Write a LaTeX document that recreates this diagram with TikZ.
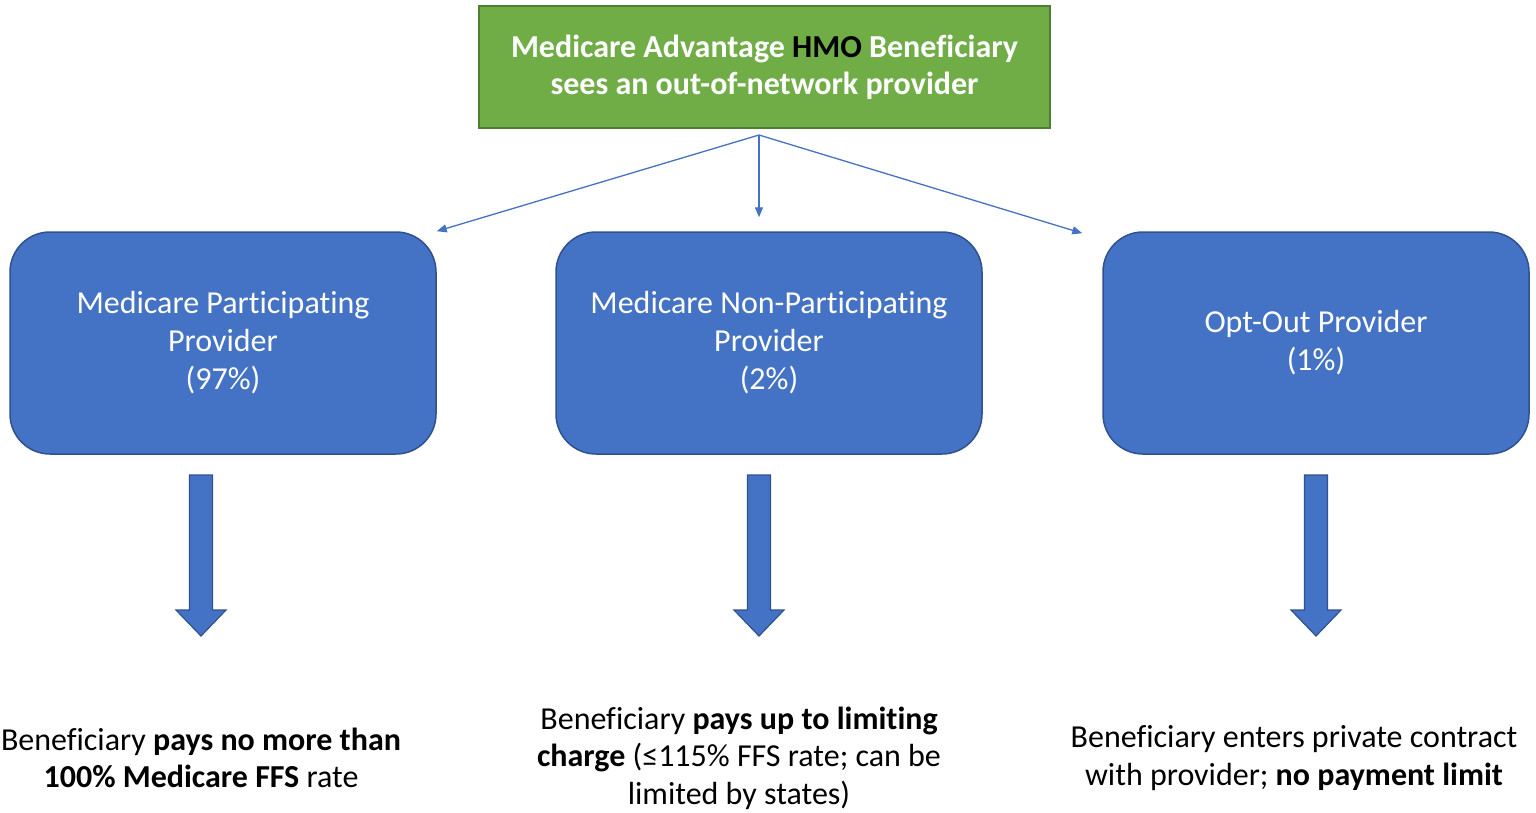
\documentclass[tikz,border=0pt]{standalone}
\usepackage{fontspec}
\setmainfont{Carlito}[Ligatures=NoCommon]
\usetikzlibrary{positioning,arrows.meta}
\definecolor{hmogreen}{HTML}{70AD47}
\definecolor{hmogreenline}{HTML}{507E32}
\definecolor{provblue}{HTML}{4472C4}
\definecolor{provblueline}{HTML}{2F528F}

\begin{document}
\begin{tikzpicture}[x=1pt,y=-1pt,
		topbox/.style={draw=hmogreenline, fill=hmogreen, line width=1.5pt, minimum width=571pt, minimum height=122pt, text=white, font=\fontsize{32}{37}\selectfont\bfseries, align=center},
		provbox/.style={draw=provblueline, fill=provblue, line width=1.5pt, rounded corners=40pt, minimum width=426pt, minimum height=222pt, text=white, font=\fontsize{32}{38}\selectfont, align=center},
		link/.style={provblue, line width=1.3pt, -{Triangle[length=10pt,width=8pt]}},
		bigarrow/.style={fill=provblue, draw=provblueline, line width=1.2pt},
		result/.style={font=\fontsize{32}{37.5}\selectfont, align=center}]
		
		\useasboundingbox (0,0) rectangle (1536,812);
		
		% top box and split point
		\node[topbox] (hmo) at (764.5,67) {Medicare Advantage \textcolor{black}{HMO} Beneficiary\\sees an out-of-network provider};
		\coordinate (split) at (759,135);
		
		% provider boxes
		\node[provbox] (par) at (223,343) {Medicare Participating\\Provider\\(97\%)};
		\node[provbox] (nonpar) at (769,343) {Medicare Non-Participating\\Provider\\(2\%)};
		\node[provbox] (optout) at (1316,343) {Opt-Out Provider\\(1\%)};
		
		\draw[link] (split) -- (par.north east);
		\draw[link, shorten >=14pt] (split) -- (split |- nonpar.north);
		\draw[link] (split) -- ([xshift=-20pt,yshift=-2pt]optout.north west);
		
		% block arrows down to results
		\foreach \x in {201,759,1316}
		{
			\draw[bigarrow] (\x-11.5,475) -- (\x+11.5,475) -- (\x+11.5,610) -- (\x+25,610)
				-- (\x,636) -- (\x-25,610) -- (\x-11.5,610) -- cycle;
		}
		
		\node[result] (res1) at (201,758) {Beneficiary \textbf{pays no more than}\\\textbf{100\% Medicare FFS} rate};
		\node[result] (res2) at (739,758) {Beneficiary \textbf{pays up to limiting}\\\textbf{charge} (≤115\% FFS rate; can be\\limited by states)};
		\node[result] (res3) at (1294,758) {Beneficiary enters private contract\\with provider; \textbf{no payment limit}};
		
	\end{tikzpicture}
\end{document}
